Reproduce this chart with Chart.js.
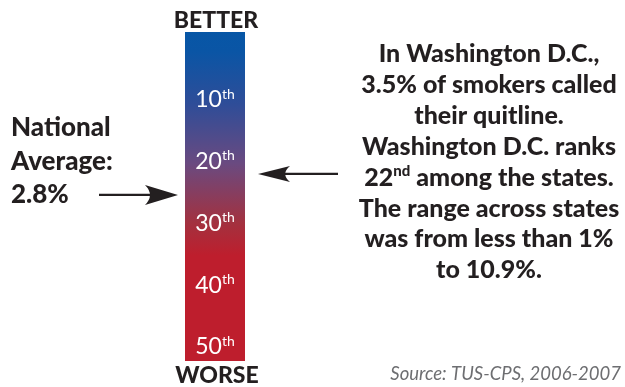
<!DOCTYPE html>
<html>
<head>
<meta charset="utf-8">
<script src="https://cdn.jsdelivr.net/npm/chart.js@4.4.1/dist/chart.umd.min.js"></script>
<style>
  html, body { margin: 0; padding: 0; background: #fff; }
  #wrap { width: 625px; height: 387px; position: relative; }
</style>
</head>
<body>
<div id="wrap"><canvas id="chart"></canvas></div>
<script>
/* data */
const rankTicks = [10, 20, 30, 40, 50];
const rankSuffix = 'th';
const scaleTop = -1;       // rank at top edge of the bar
const scaleBottom = 52.3;  // rank at bottom edge of the bar
const dcRank = 22;
const nationalRank = 25.4;
const topLabel = 'BETTER';
const bottomLabel = 'WORSE';
const leftLines = ['National', 'Average:', '2.8%'];
const rightLines = [
  'In Washington D.C.,',
  '3.5% of smokers called',
  'their quitline.',
  'Washington D.C. ranks',
  '22^nd^ among the states.',
  'The range across states',
  'was from less than 1%',
  'to 10.9%.'
];
const sourceText = 'Source: TUS-CPS, 2006-2007';

/* util */
const ink = '#231f20';
const FONT = 'Lato, "Open Sans", sans-serif';

// text with ^sup^ markers
function drawRich(ctx, str, x, y, size, weight, color, align){
  const parts = str.split('^');
  const supSize = Math.round(size * 0.6);
  const widths = parts.map((p, i) => {
    ctx.font = `${weight} ${i % 2 ? supSize : size}px ${FONT}`;
    return ctx.measureText(p).width;
  });
  const total = widths.reduce((a, b) => a + b, 0);
  let cx = align === 'center' ? x - total / 2 : align === 'right' ? x - total : x;
  ctx.fillStyle = color;
  ctx.textAlign = 'left';
  ctx.textBaseline = 'alphabetic';
  parts.forEach((p, i) => {
    ctx.font = `${weight} ${i % 2 ? supSize : size}px ${FONT}`;
    ctx.fillText(p, cx, i % 2 ? y - size * 0.38 : y);
    cx += widths[i];
  });
}

function drawArrow(ctx, x1, x2, y, headLen, headHalf){
  const dir = Math.sign(x2 - x1);
  ctx.save();
  ctx.strokeStyle = ink;
  ctx.fillStyle = ink;
  ctx.lineWidth = 2.2;
  ctx.beginPath();
  ctx.moveTo(x1, y);
  ctx.lineTo(x2 - dir * headLen * 0.6, y);
  ctx.stroke();
  ctx.beginPath();
  ctx.moveTo(x2, y);
  ctx.lineTo(x2 - dir * headLen, y - headHalf);
  ctx.quadraticCurveTo(x2 - dir * headLen * 0.7, y, x2 - dir * headLen, y + headHalf);
  ctx.closePath();
  ctx.fill();
  ctx.restore();
}

const overlay = {
  id: 'overlay',
  afterDraw(chart){
    const ctx = chart.ctx;
    const y = chart.scales.y;
    const area = chart.chartArea;
    const mid = (area.left + area.right) / 2;

    /* rank labels inside the bar */
    rankTicks.forEach(t => {
      drawRich(ctx, `${t}^${rankSuffix}^`, mid, y.getPixelForValue(t) + 7.5, 23, 400, '#fff', 'center');
    });

    /* better / worse */
    drawRich(ctx, topLabel, mid + 1, 28, 23, 900, ink, 'center');
    drawRich(ctx, bottomLabel, mid + 2, 383, 23, 900, ink, 'center');

    /* national average */
    leftLines.forEach((l, i) => drawRich(ctx, l, 11, 136 + i * 33.5, 26, 900, ink, 'left'));
    drawArrow(ctx, 99, 178, y.getPixelForValue(nationalRank), 33, 10);

    /* DC note */
    rightLines.forEach((l, i) => drawRich(ctx, l, 489, 62 + i * 30.9, 25, 900, ink, 'center'));
    drawArrow(ctx, 338, 258, y.getPixelForValue(dcRank), 32, 8);

    /* source */
    ctx.font = `italic 400 18.5px ${FONT}`;
    ctx.fillStyle = '#6d6e71';
    ctx.textAlign = 'right';
    ctx.fillText(sourceText, 621, 380);
  }
};

const canvas = document.getElementById('chart');
new Chart(canvas, {
  type: 'bar',
  data: {
    labels: ['rank'],
    datasets: [{
      data: [[scaleTop, scaleBottom]],
      borderWidth: 0,
      barPercentage: 1,
      categoryPercentage: 1,
      backgroundColor: c => {
        const a = c.chart.chartArea;
        if (!a) return '#8a3a5a';
        const g = c.chart.ctx.createLinearGradient(0, a.top, 0, a.bottom);
        g.addColorStop(0, '#0756a6');
        g.addColorStop(0.06, '#0a55a5');
        g.addColorStop(0.22, '#2f4d98');
        g.addColorStop(0.4, '#6a4a80');
        g.addColorStop(0.58, '#a3313f');
        g.addColorStop(0.68, '#be1e2d');
        g.addColorStop(1, '#be1e2d');
        return g;
      }
    }]
  },
  options: {
    responsive: true,
    maintainAspectRatio: false,
    animation: false,
    layout: { padding: { left: 185, right: 380, top: 32, bottom: 26 } },
    plugins: { legend: { display: false }, tooltip: { enabled: false } },
    scales: {
      x: { display: false },
      y: { display: false, reverse: true, min: scaleTop, max: scaleBottom }
    }
  },
  plugins: [overlay]
});
</script>
</body>
</html>
